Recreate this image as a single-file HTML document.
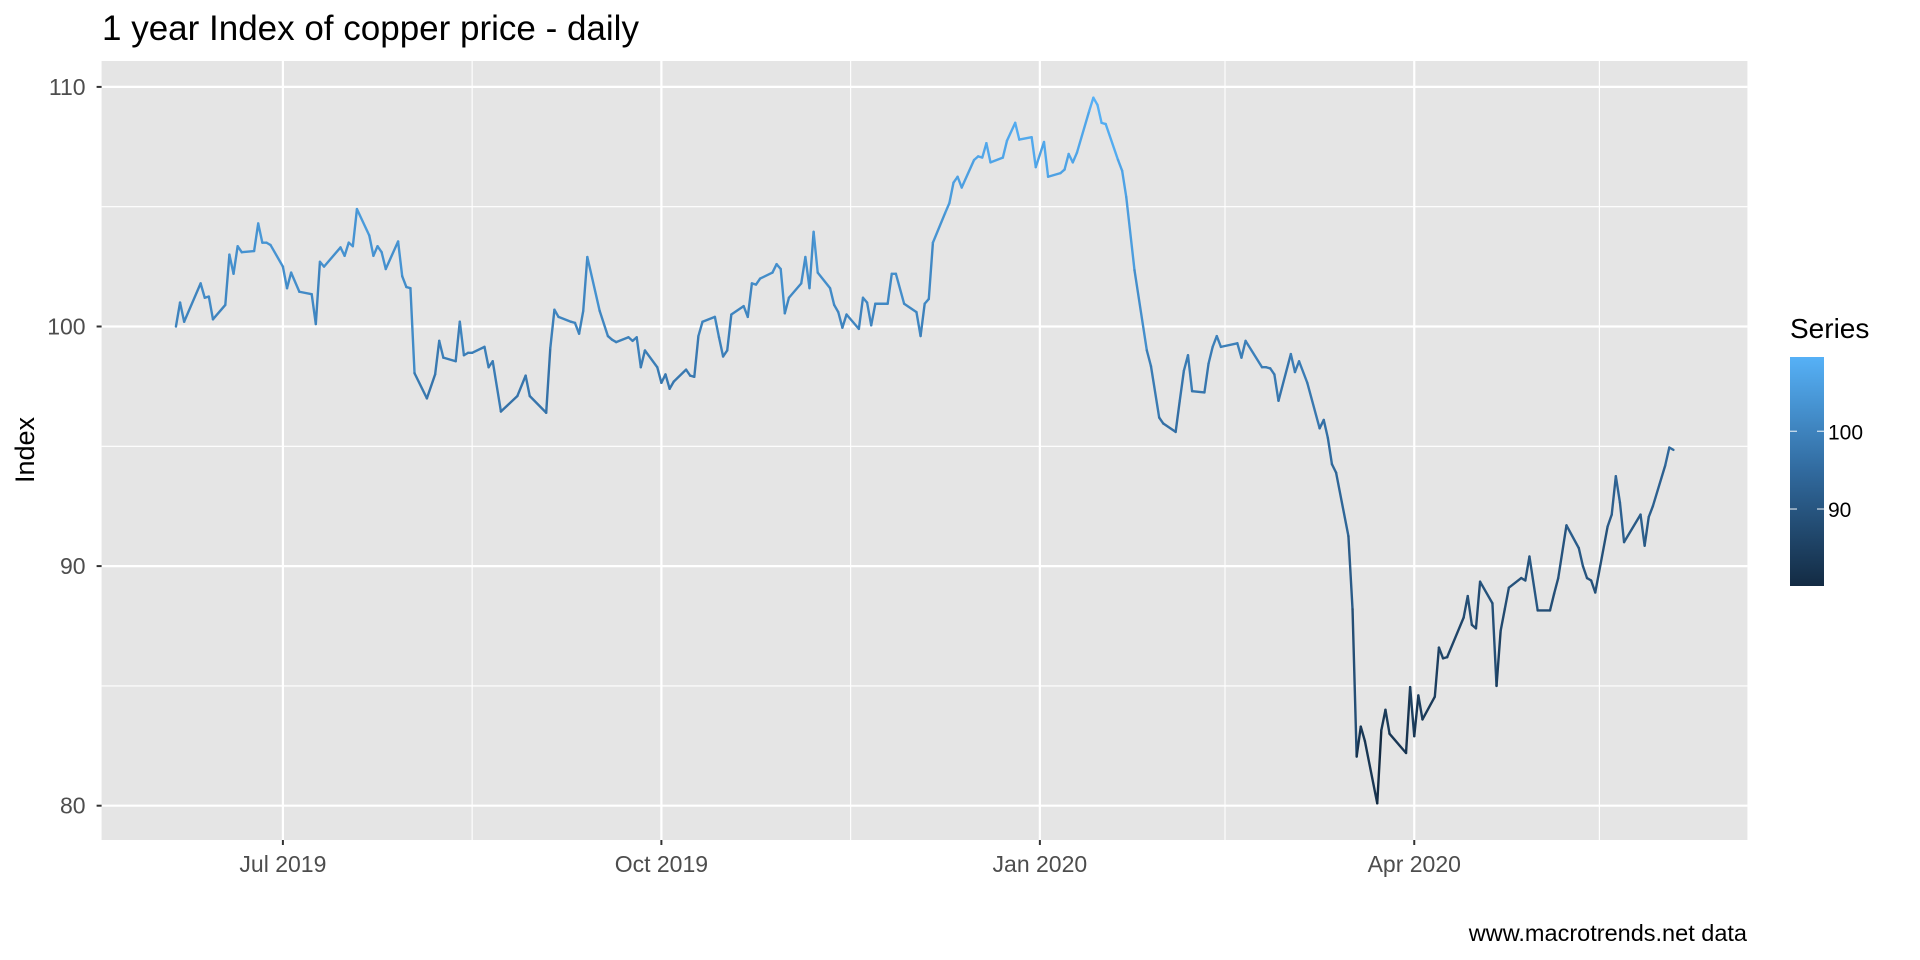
<!DOCTYPE html>
<html><head><meta charset="utf-8">
<style>
html,body{margin:0;padding:0;background:#fff;}
svg{display:block;font-family:"Liberation Sans",Arial,sans-serif;}
</style></head>
<body>
<svg id="chart" width="1920" height="960" viewBox="0 0 1920 960" xmlns="http://www.w3.org/2000/svg">
<defs>
<linearGradient id="lg" x1="0" y1="1" x2="0" y2="0">
<stop offset="0" stop-color="#132B43"/><stop offset="0.5" stop-color="#316A9E"/><stop offset="1" stop-color="#56B1F7"/>
</linearGradient>
</defs>
<text x="102" y="40" font-size="35" fill="#000">1 year Index of copper price - daily</text>
<rect x="101.6" y="61" width="1645.8" height="779" fill="#E5E5E5"/>
<g id="grid"></g>
<g id="series"></g>
<g id="axes"></g>
<text transform="translate(34,450) rotate(-90)" text-anchor="middle" font-size="27" fill="#000">Index</text>
<text x="1747" y="941" text-anchor="end" font-size="23.5" fill="#000">www.macrotrends.net data</text>
<g>
<text x="1790" y="338" font-size="28" fill="#000">Series</text>
<rect x="1790" y="357" width="34" height="229" fill="url(#lg)"/>
<g id="legendticks"></g>
</g>
</svg>
<script>
const dates = ["2019-06-05","2019-06-06","2019-06-07","2019-06-11","2019-06-12","2019-06-13","2019-06-14","2019-06-17","2019-06-18","2019-06-19","2019-06-20","2019-06-21","2019-06-24","2019-06-25","2019-06-26","2019-06-27","2019-06-28","2019-07-01","2019-07-02","2019-07-03","2019-07-05","2019-07-08","2019-07-09","2019-07-10","2019-07-11","2019-07-15","2019-07-16","2019-07-17","2019-07-18","2019-07-19","2019-07-22","2019-07-23","2019-07-24","2019-07-25","2019-07-26","2019-07-29","2019-07-30","2019-07-31","2019-08-01","2019-08-02","2019-08-05","2019-08-07","2019-08-08","2019-08-09","2019-08-12","2019-08-13","2019-08-14","2019-08-15","2019-08-16","2019-08-19","2019-08-20","2019-08-21","2019-08-23","2019-08-27","2019-08-29","2019-08-30","2019-09-03","2019-09-04","2019-09-05","2019-09-06","2019-09-09","2019-09-10","2019-09-11","2019-09-12","2019-09-13","2019-09-16","2019-09-18","2019-09-19","2019-09-20","2019-09-23","2019-09-24","2019-09-25","2019-09-26","2019-09-27","2019-09-30","2019-10-01","2019-10-02","2019-10-03","2019-10-04","2019-10-07","2019-10-08","2019-10-09","2019-10-10","2019-10-11","2019-10-14","2019-10-15","2019-10-16","2019-10-17","2019-10-18","2019-10-21","2019-10-22","2019-10-23","2019-10-24","2019-10-25","2019-10-28","2019-10-29","2019-10-30","2019-10-31","2019-11-01","2019-11-04","2019-11-05","2019-11-06","2019-11-07","2019-11-08","2019-11-11","2019-11-12","2019-11-13","2019-11-14","2019-11-15","2019-11-18","2019-11-19","2019-11-20","2019-11-21","2019-11-22","2019-11-25","2019-11-26","2019-11-27","2019-11-29","2019-12-02","2019-12-03","2019-12-04","2019-12-05","2019-12-06","2019-12-09","2019-12-10","2019-12-11","2019-12-12","2019-12-13","2019-12-16","2019-12-17","2019-12-18","2019-12-19","2019-12-20","2019-12-23","2019-12-24","2019-12-26","2019-12-27","2019-12-30","2019-12-31","2020-01-02","2020-01-03","2020-01-06","2020-01-07","2020-01-08","2020-01-09","2020-01-10","2020-01-13","2020-01-14","2020-01-15","2020-01-16","2020-01-17","2020-01-20","2020-01-21","2020-01-22","2020-01-24","2020-01-27","2020-01-28","2020-01-30","2020-01-31","2020-02-03","2020-02-04","2020-02-05","2020-02-06","2020-02-07","2020-02-10","2020-02-11","2020-02-12","2020-02-13","2020-02-14","2020-02-18","2020-02-19","2020-02-20","2020-02-24","2020-02-25","2020-02-26","2020-02-27","2020-02-28","2020-03-02","2020-03-03","2020-03-04","2020-03-06","2020-03-09","2020-03-10","2020-03-11","2020-03-12","2020-03-13","2020-03-16","2020-03-17","2020-03-18","2020-03-19","2020-03-20","2020-03-23","2020-03-24","2020-03-25","2020-03-26","2020-03-30","2020-03-31","2020-04-01","2020-04-02","2020-04-03","2020-04-06","2020-04-07","2020-04-08","2020-04-09","2020-04-13","2020-04-14","2020-04-15","2020-04-16","2020-04-17","2020-04-20","2020-04-21","2020-04-22","2020-04-23","2020-04-24","2020-04-27","2020-04-28","2020-04-29","2020-05-01","2020-05-04","2020-05-05","2020-05-06","2020-05-08","2020-05-11","2020-05-12","2020-05-13","2020-05-14","2020-05-15","2020-05-18","2020-05-19","2020-05-20","2020-05-21","2020-05-22","2020-05-26","2020-05-27","2020-05-28","2020-05-29","2020-06-01","2020-06-02","2020-06-03"];
const values = [100.0,101.0,100.2,101.8,101.2,101.25,100.3,100.9,103.0,102.2,103.35,103.1,103.15,104.3,103.5,103.5,103.4,102.5,101.6,102.25,101.45,101.35,100.1,102.7,102.5,103.3,102.95,103.5,103.35,104.9,103.8,102.95,103.35,103.1,102.4,103.55,102.1,101.65,101.6,98.05,97.0,98.0,99.4,98.7,98.55,100.2,98.8,98.9,98.9,99.15,98.3,98.55,96.45,97.1,97.95,97.1,96.4,99.1,100.7,100.4,100.2,100.15,99.7,100.65,102.9,100.65,99.6,99.45,99.35,99.55,99.4,99.55,98.3,99.0,98.3,97.65,98.0,97.4,97.7,98.2,97.95,97.9,99.6,100.2,100.4,99.55,98.75,99.0,100.5,100.85,100.4,101.8,101.75,102.0,102.25,102.6,102.4,100.55,101.2,101.8,102.9,101.6,103.95,102.25,101.6,100.9,100.6,99.95,100.5,99.9,101.2,101.0,100.05,100.95,100.95,102.2,102.2,100.95,100.6,99.6,100.95,101.15,103.5,104.75,105.15,106.0,106.25,105.8,106.95,107.1,107.05,107.65,106.85,107.05,107.75,108.5,107.8,107.9,106.65,107.7,106.25,106.4,106.55,107.2,106.85,107.25,109.0,109.55,109.25,108.5,108.45,106.95,106.5,105.4,102.35,99.0,98.35,96.2,95.95,95.6,96.9,98.15,98.8,97.3,97.25,98.45,99.15,99.6,99.15,99.3,98.7,99.4,98.3,98.3,98.25,98.0,96.9,98.85,98.1,98.55,97.65,95.75,96.1,95.35,94.25,93.9,91.25,88.2,82.05,83.3,82.7,80.1,83.15,84.0,83.0,82.2,84.95,82.9,84.6,83.6,84.55,86.6,86.15,86.2,87.85,88.75,87.55,87.4,89.35,88.45,85.0,87.3,88.2,89.1,89.5,89.4,90.4,88.15,88.15,88.85,89.5,91.7,90.75,90.0,89.5,89.4,88.9,91.65,92.15,93.75,92.65,91.0,92.15,90.85,92.05,92.5,94.2,94.95,94.85];
const yTicks = [80, 90, 100, 110];
const yMinor = [85, 95, 105];
const xTickDates = ["2019-07-01","2019-10-01","2020-01-01","2020-04-01"];
const xTickLabels = ["Jul 2019","Oct 2019","Jan 2020","Apr 2020"];
const xMinorDates = ["2019-08-16","2019-11-16","2020-02-15","2020-05-16"];
const legendTicks = [90, 100];
const colorMin = 80.1, colorMax = 109.55;

const NS = "http://www.w3.org/2000/svg";
const PL = 101.6, PR = 1747.4, PT = 61, PB = 840;
const day0 = Date.UTC(2019, 6, 1);
function days(s){ const p = s.split("-"); return (Date.UTC(+p[0], +p[1]-1, +p[2]) - day0)/86400000; }
function xScale(s){ return 282.9 + days(s)*4.114; }
function yScale(v){ return 86.9 + (110 - v)*23.96; }
function lerp(a,b,t){ return Math.round(a+(b-a)*t); }
const cLow = [0x13,0x2B,0x43], cMid = [0x31,0x6A,0x9E], cHigh = [0x56,0xB1,0xF7];
function color(v){
  let t = (v - colorMin)/(colorMax - colorMin); t = Math.max(0, Math.min(1, t));
  let a, b, u;
  if (t < 0.5) { a = cLow; b = cMid; u = t*2; } else { a = cMid; b = cHigh; u = (t-0.5)*2; }
  return "rgb(" + lerp(a[0],b[0],u) + "," + lerp(a[1],b[1],u) + "," + lerp(a[2],b[2],u) + ")";
}
function mk(tag, attrs, parent){
  const el = document.createElementNS(NS, tag);
  for (const k in attrs) el.setAttribute(k, attrs[k]);
  parent.appendChild(el); return el;
}
const grid = document.getElementById("grid");
const axes = document.getElementById("axes");
const series = document.getElementById("series");

yMinor.forEach(v => {
  const el = mk("line", {x1:PL, x2:PR, y1:yScale(v), y2:yScale(v), stroke:"#fff", "stroke-width":1.1}, grid);
  
  
});
xMinorDates.forEach(d => {
  const el = mk("line", {x1:xScale(d), x2:xScale(d), y1:PT, y2:PB, stroke:"#fff", "stroke-width":1.1}, grid);
  
  
});
yTicks.forEach(v => {
  const y = yScale(v);
  const el = mk("line", {x1:PL, x2:PR, y1:y, y2:y, stroke:"#fff", "stroke-width":2.2}, grid);
  
  
  const t = mk("line", {x1:PL-5, x2:PL, y1:y, y2:y, stroke:"#333", "stroke-width":2}, axes);
  
  
  const lb = mk("text", {x:PL-16, y:y+8, "text-anchor":"end", "font-size":23, fill:"#4D4D4D"}, axes);
  lb.textContent = String(v);
  
  
});
xTickDates.forEach((d, i) => {
  const x = xScale(d);
  const el = mk("line", {x1:x, x2:x, y1:PT, y2:PB, stroke:"#fff", "stroke-width":2.2}, grid);
  
  
  const t = mk("line", {x1:x, x2:x, y1:PB, y2:PB+5, stroke:"#333", "stroke-width":2}, axes);
  
  
  const lb = mk("text", {x:x, y:PB+32, "text-anchor":"middle", "font-size":23, fill:"#4D4D4D"}, axes);
  lb.textContent = xTickLabels[i];
  
  
});
for (let i = 0; i < values.length - 1; i++) {
  const seg = mk("line", {x1:xScale(dates[i]), y1:yScale(values[i]), x2:xScale(dates[i+1]), y2:yScale(values[i+1]),
    stroke:color(values[i]), "stroke-width":2.4, "stroke-linecap":"round"}, series);
  
  
}
const lt = document.getElementById("legendticks");
legendTicks.forEach(v => {
  const y = 586 - (v - colorMin)/(colorMax - colorMin)*229;
  const a = mk("line", {x1:1790, x2:1797, y1:y, y2:y, stroke:"#fff", "stroke-opacity":0.8, "stroke-width":1.2}, lt);
  
  
  const b = mk("line", {x1:1817, x2:1824, y1:y, y2:y, stroke:"#fff", "stroke-opacity":0.8, "stroke-width":1.2}, lt);
  
  
  const lb = mk("text", {x:1828, y:y+8, "font-size":21, fill:"#000"}, lt);
  lb.textContent = String(v);
  
  
});
</script>
</body></html>
